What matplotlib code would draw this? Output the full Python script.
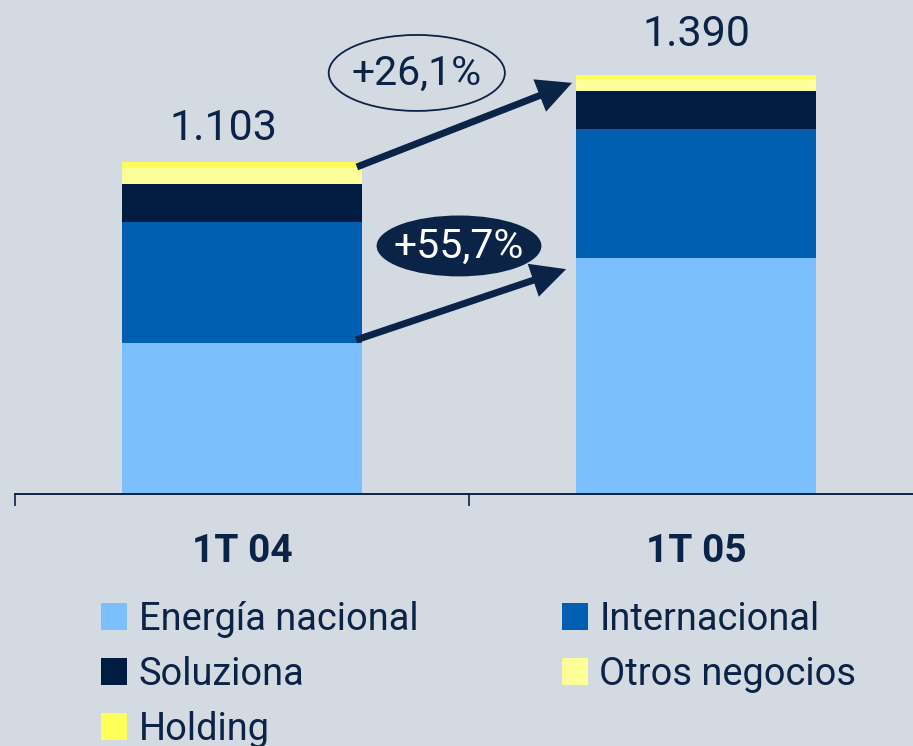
import matplotlib
matplotlib.use("Agg")
import matplotlib.pyplot as plt
from matplotlib.patches import Ellipse, Patch, ArrowStyle

# ---- data ----
categories = ["1T 04", "1T 05"]
series_names = ["Energía nacional", "Internacional", "Soluziona", "Otros negocios", "Holding"]
energia_nacional = [502, 782]
internacional = [401, 428]
soluziona = [126, 128]
otros_negocios = [54, 40]
holding = [20, 12]
totals = [1103, 1390]
total_labels = ["1.103", "1.390"]
growth_total = "+26,1%"
growth_energia = "+55,7%"

# ---- style ----
BG = "#d3dae2"
NAVY = "#0b2346"
colors = ["#7bbfff", "#005fb0", "#001c40", "#ffff99", "#ffff5a"]
FONT = ["Roboto", "DejaVu Sans"]
plt.rcParams["font.family"] = FONT

W, H = 913, 746
fig = plt.figure(figsize=(W / 100, H / 100), dpi=100, facecolor=BG)
ax = fig.add_axes([15 / W, (H - 494) / H, 908 / W, 494 / H])
ax.set_facecolor(BG)
ax.set_xlim(-0.5, 1.5)
ax.set_ylim(0, 1639)

x = list(range(len(categories)))
series = [energia_nacional, internacional, soluziona, otros_negocios, holding]
bottom = [0] * len(x)
for name, vals, c in zip(series_names, series, colors):
    ax.bar(x, vals, width=0.5286, bottom=bottom, color=c, label=name, linewidth=0)
    bottom = [bt + v for bt, v in zip(bottom, vals)]

# spines / ticks
for s in ["top", "right", "left"]:
    ax.spines[s].set_visible(False)
ax.spines["bottom"].set_color(NAVY)
ax.spines["bottom"].set_linewidth(1.4)
ax.set_yticks([])
ax.set_xticks(x)
ax.set_xticklabels(categories, fontsize=28, fontweight="bold", color=NAVY)
ax.tick_params(axis="x", which="major", length=0, pad=28)
ax.set_xticks([-0.5, 0.5], minor=True)
ax.tick_params(axis="x", which="minor", length=8.6, width=1.2, color=NAVY)

# total labels
label_offsets = [(-13.7, 15.5), (0, 21)]
for xi, tot, lab, off in zip(x, totals, total_labels, label_offsets):
    ax.annotate(lab, xy=(xi, tot), xytext=off, textcoords="offset points",
                ha="center", va="baseline", fontsize=31, color=NAVY)

# arrows
astyle = ArrowStyle.Simple(head_length=25, head_width=25, tail_width=5)
ax.annotate("", xy=(0.727, 1364), xytext=(0.253, 1085),
            arrowprops=dict(arrowstyle=astyle, fc=NAVY, ec="none", shrinkA=0, shrinkB=0,
                            mutation_scale=1))
ax.annotate("", xy=(0.714, 746), xytext=(0.251, 511),
            arrowprops=dict(arrowstyle=astyle, fc=NAVY, ec="none", shrinkA=0, shrinkB=0,
                            mutation_scale=1))

# ellipses with growth labels
e1 = Ellipse((0.385, 1397), 0.388, 252, facecolor="none", edgecolor=NAVY, linewidth=1.3)
ax.add_patch(e1)
ax.text(0.385, 1397, growth_total, ha="center", va="center", fontsize=29.5, color=NAVY)
e2 = Ellipse((0.478, 823), 0.363, 202, facecolor=NAVY, edgecolor="none")
ax.add_patch(e2)
ax.text(0.478, 823, growth_energia, ha="center", va="center", fontsize=29.5, color="white")

# legend (column-major order)
order = [0, 2, 4, 1, 3]
handles = [Patch(facecolor=colors[i], edgecolor="none") for i in order]
labels = [series_names[i] for i in order]
fig.legend(handles, labels, ncol=2, loc="upper left",
           bbox_to_anchor=(101 / W, 1 - 601 / H), frameon=False,
           fontsize=27.4, handlelength=0.69, handleheight=0.69,
           handletextpad=0.3, columnspacing=3.77, labelspacing=0.47,
           borderpad=0, borderaxespad=0, labelcolor=NAVY)

fig.savefig("out.png", dpi=100, facecolor=BG)
